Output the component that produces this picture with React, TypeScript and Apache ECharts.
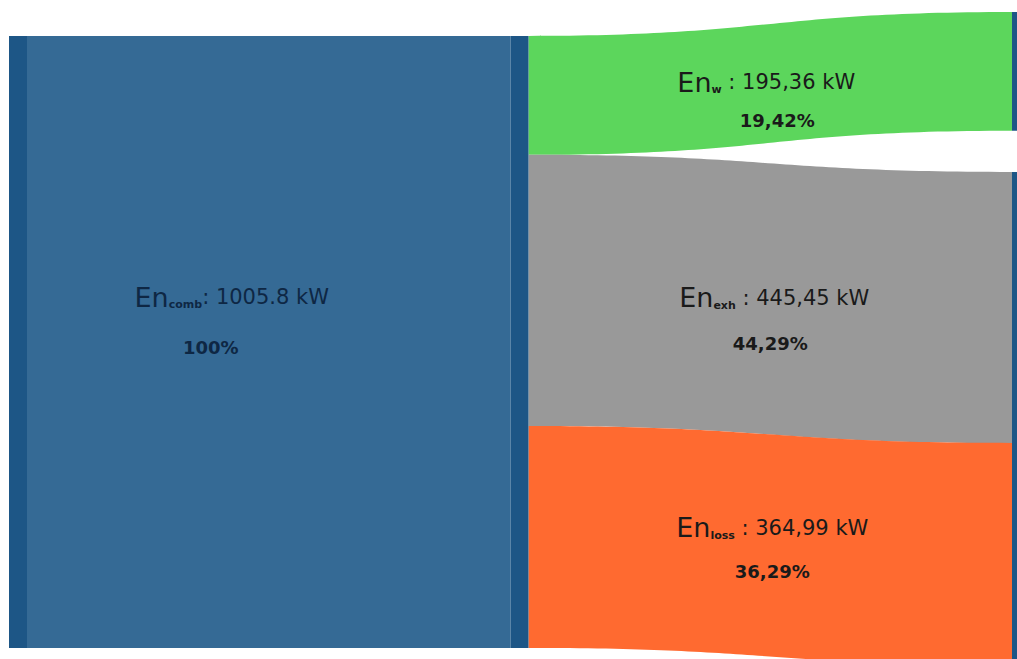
import React, { useEffect, useRef } from 'react';
import * as echarts from 'echarts';

// ---- data ----
const sourceName = 'comb';
const sourceValue = 1005.8;
const sourceValueLabel = '1005.8 kW';
const sourcePercent = '100%';
const targetNames = ['w', 'exh', 'loss'];
const targetValues = [195.36, 445.45, 364.99];
const targetValueLabels = ['195,36 kW', '445,45 kW', '364,99 kW'];
const targetPercents = ['19,42%', '44,29%', '36,29%'];

// ---- style ----
const NODE_COLOR = '#1d5686';
const SOURCE_FLOW_COLOR = '#356a95';
const TARGET_COLORS = ['#5cd65c', '#999999', '#ff6a30'];
const TOP = 36;
const HEIGHT = 612;
// right-hand node tops (pixels, page coordinates)
const RIGHT_TOPS = [12, 172, 443];
const LABEL_OFFSETS: [number, number][] = [[-37, -8], [-4, 24], [4, 32], [2, 13]];
const LINE_SPACING = [50, 38, 46, 44];
const PCT_SHIFT = [42, -22, 8, 0];
const FONT = 'DejaVu Sans';

export default function App() {
  const ref = useRef<HTMLDivElement>(null);
  useEffect(() => {
    if (!ref.current) return;
    const chart = echarts.init(ref.current, undefined, { renderer: 'svg' });

    const nodes: any[] = [
      { name: 'src', itemStyle: { color: NODE_COLOR } },
      { name: sourceName, itemStyle: { color: NODE_COLOR } },
      ...targetNames.map((n, i) => ({
        name: n,
        itemStyle: { color: NODE_COLOR },
        localY: (RIGHT_TOPS[i] - TOP) / HEIGHT,
      })),
    ];
    const allNames = [sourceName, ...targetNames];
    const allValues = [sourceValueLabel, ...targetValueLabels];
    const allPct = [sourcePercent, ...targetPercents];
    const links: any[] = [
      {
        source: 'src',
        target: sourceName,
        value: sourceValue,
        lineStyle: { color: SOURCE_FLOW_COLOR, opacity: 1 },
        edgeLabel: { offset: LABEL_OFFSETS[0] },
      },
      ...targetNames.map((n, i) => ({
        source: sourceName,
        target: n,
        value: targetValues[i],
        lineStyle: { color: TARGET_COLORS[i], opacity: 1 },
        edgeLabel: { offset: LABEL_OFFSETS[i + 1] },
      })),
    ];

    const dark = '#1a1a1a';
    const navy = '#0e2744';
    const rich: any = {};
    [['', dark], ['B', navy]].forEach(([suffix, color]) => {
      rich['en' + suffix] = { fontSize: 27, fontFamily: FONT, color, lineHeight: 26 };
      rich['sub' + suffix] = {
        fontSize: 11, fontWeight: 'bold', fontFamily: FONT, color,
        verticalAlign: 'bottom', lineHeight: 16,
      };
      rich['val' + suffix] = { fontSize: 21, fontFamily: FONT, color, lineHeight: 26 };
    });
    LINE_SPACING.forEach((s, i) => {
      const shift = PCT_SHIFT[i];
      rich['p' + i] = {
        fontSize: 18,
        fontWeight: 'bold',
        fontFamily: FONT,
        color: i === 0 ? navy : dark,
        lineHeight: 2 * s - 26,
        padding: shift >= 0 ? [0, shift, 0, 0] : [0, 0, 0, -shift],
      };
    });

    chart.setOption({
      animation: false,
      series: [
        {
          type: 'sankey',
          left: 9,
          right: -13,
          top: TOP,
          height: HEIGHT,
          nodeWidth: 18,
          nodeGap: 0,
          layoutIterations: 0,
          draggable: false,
          emphasis: { disabled: true },
          label: { show: false },
          edgeLabel: {
            show: true,
            formatter: (p: any) => {
              const i = p.dataIndex;
              const b = i === 0 ? 'B' : '';
              return `{en${b}|En}{sub${b}|${allNames[i]}}{val${b}|${i === 0 ? '' : ' '}: ${allValues[i]}}\n{p${i}|${allPct[i]}}`;
            },
            rich,
          },
          lineStyle: { curveness: 0.5, opacity: 1 },
          itemStyle: { borderWidth: 0 },
          data: nodes,
          links,
        },
      ],
    });
    return () => chart.dispose();
  }, []);
  return (
    <div
      ref={ref}
      style={{ position: 'fixed', left: 0, top: 0, width: 1017, height: 659, background: '#ffffff' }}
    />
  );
}
